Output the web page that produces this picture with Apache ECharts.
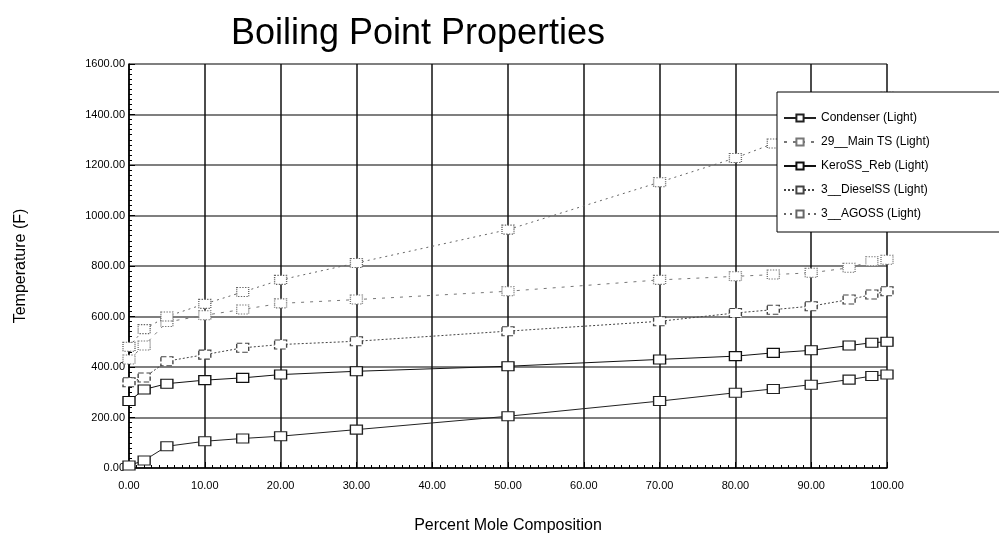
<!DOCTYPE html>
<html>
<head>
<meta charset="utf-8">
<script src="https://cdn.jsdelivr.net/npm/echarts@6/dist/echarts.min.js"></script>
<style>html,body{margin:0;padding:0;background:#fff}#c{width:999px;height:540px}</style>
</head>
<body>
<div id="c"></div>
<script>
var xValues = [0, 2, 5, 10, 15, 20, 30, 50, 70, 80, 85, 90, 95, 98, 100];
var condenser = [10, 30, 86, 106, 117, 126, 152, 205, 265, 298, 313, 330, 350, 364, 370];
var mainTS = [430, 485, 578, 605, 628, 652, 667, 700, 745, 759, 766, 773, 793, 819, 825];
var keroSS = [265, 311, 334, 348, 357, 370, 383, 403, 430, 443, 456, 466, 485, 496, 500];
var dieselSS = [340, 358, 423, 449, 476, 489, 502, 542, 581, 614, 627, 641, 667, 687, 700];
var agoss = [480, 550, 600, 650, 697, 745, 812, 944, 1132, 1228, 1285, 1335, 1395, 1440, 1470];
var seriesNames = ['Condenser (Light)', '29__Main TS (Light)', 'KeroSS_Reb (Light)', '3__DieselSS (Light)', '3__AGOSS (Light)'];

function pairs(ys) { return xValues.map(function (x, i) { return [x, ys[i]]; }); }
var FONT = '"Liberation Sans", Arial, sans-serif';

function mk(name, ys, lineColor, lineType, symBorderType) {
  return {
    name: name, type: 'line', data: pairs(ys),
    symbol: 'rect', symbolSize: [12, 9], showAllSymbol: true,
    lineStyle: { color: lineColor, width: 1, type: lineType },
    itemStyle: { color: '#fff', borderColor: lineColor, borderWidth: 1.2, borderType: symBorderType },
    emphasis: { disabled: true }, animation: false
  };
}

var chart = echarts.init(document.getElementById('c'), null, { renderer: 'canvas' });
chart.setOption({
  backgroundColor: '#fff',
  animation: false,
  title: {
    text: 'Boiling Point Properties', left: 413, top: 11, textAlign: 'center',
    textStyle: { fontFamily: FONT, fontSize: 36, fontWeight: 'normal', color: '#000' }
  },
  legend: {
    orient: 'vertical', left: 777, top: 92,
    padding: [20, 90, 12, 6], itemGap: 12, itemWidth: 32, itemHeight: 9,
    backgroundColor: '#fff', borderColor: '#000', borderWidth: 1,
    data: seriesNames,
    textStyle: { fontFamily: FONT, fontSize: 12, color: '#000' }
  },
  grid: { left: 129, right: 112, top: 64, bottom: 72 },
  xAxis: {
    type: 'value', min: 0, max: 100, interval: 10,
    name: 'Percent Mole Composition', nameLocation: 'middle', nameGap: 50,
    nameTextStyle: { fontFamily: FONT, fontSize: 16, color: '#000' },
    axisLine: { lineStyle: { color: '#000', width: 1.5 } },
    axisTick: { inside: true, length: 6, lineStyle: { color: '#000' } },
    minorTick: { show: true, splitNumber: 10, length: 3, lineStyle: { color: '#000' } },
    axisLabel: { fontFamily: FONT, fontSize: 11, color: '#000', margin: 12, formatter: function (v) { return v.toFixed(2); } },
    splitLine: { show: true, lineStyle: { color: '#111', width: 1.5 } }
  },
  yAxis: {
    type: 'value', min: 0, max: 1600, interval: 200,
    name: 'Temperature (F)', nameLocation: 'middle', nameGap: 100,
    nameTextStyle: { fontFamily: FONT, fontSize: 16, color: '#000' },
    axisLine: { show: true, lineStyle: { color: '#000', width: 1.5 } },
    axisTick: { show: true, inside: true, length: 6, lineStyle: { color: '#000' } },
    minorTick: { show: true, splitNumber: 10, length: 3, lineStyle: { color: '#000' } },
    axisLabel: { fontFamily: FONT, fontSize: 11, color: '#000', margin: 4, formatter: function (v) { return v.toFixed(2); } },
    splitLine: { show: true, lineStyle: { color: '#555', width: 1.5 } }
  },
  series: [
    mk(seriesNames[0], condenser, '#222', 'solid', 'solid'),
    mk(seriesNames[1], mainTS, '#777', [3, 6], 'dotted'),
    mk(seriesNames[2], keroSS, '#111', 'solid', 'solid'),
    mk(seriesNames[3], dieselSS, '#444', [2, 2], 'dashed'),
    mk(seriesNames[4], agoss, '#666', [2, 4], 'dotted')
  ]
});
</script>
</body>
</html>
